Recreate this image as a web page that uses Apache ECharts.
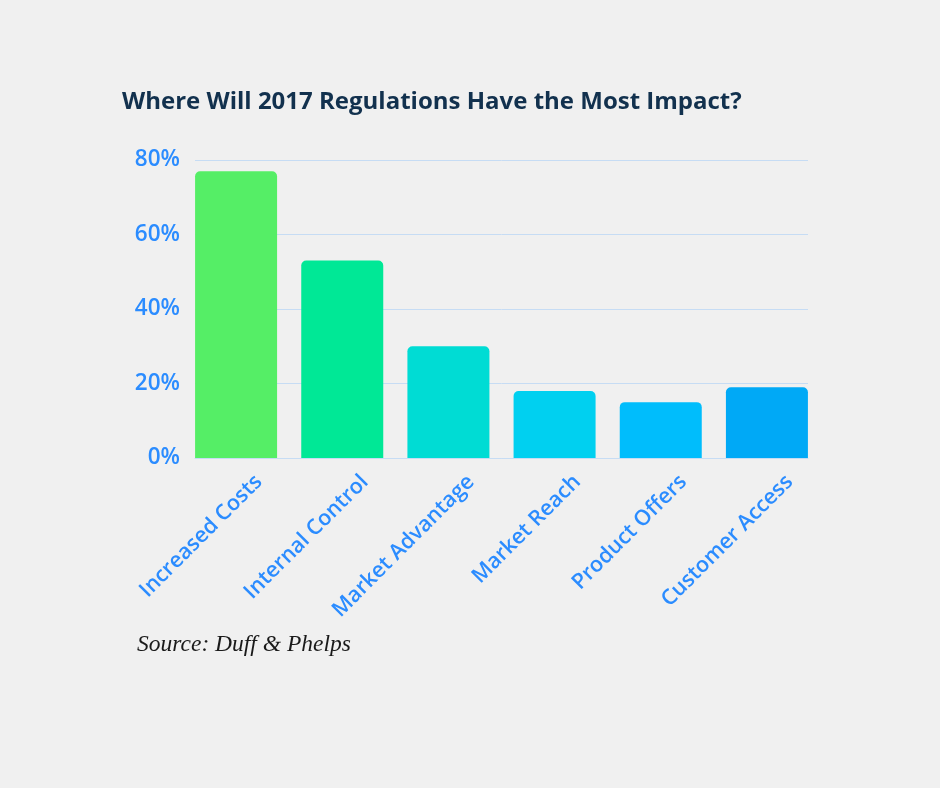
<!DOCTYPE html>
<html>
<head>
<meta charset="utf-8">
<script src="https://cdn.jsdelivr.net/npm/echarts@6/dist/echarts.min.js"></script>
<style>
html,body{margin:0;padding:0;background:#f0f0f0;}
#chart{width:940px;height:788px;}
</style>
</head>
<body>
<div id="chart"></div>
<script>
const categories = ['Increased Costs', 'Internal Control', 'Market Advantage', 'Market Reach', 'Product Offers', 'Customer Access'];
const values = [77, 53, 30, 18, 15, 19];
const barColors = ['#55ee66', '#00e896', '#00dcd4', '#00d0f0', '#00bdfc', '#00a9f6'];
const yTicks = [0, 20, 40, 60, 80];

const labelColor = '#2b8cff';
const gridColor = '#c6dcf4';
const yMin = yTicks[0], yMax = yTicks[yTicks.length - 1];

const chart = echarts.init(document.getElementById('chart'), null, {renderer: 'canvas'});
chart.setOption({
  backgroundColor: '#f0f0f0',
  animation: false,
  title: [
    {
      text: 'Where Will 2017 Regulations Have the Most Impact?',
      left: 117, top: 85,
      textStyle: {fontFamily: 'Open Sans', fontWeight: 'bold', fontSize: 24, color: '#12314e'}
    },
    {
      text: 'Source: Duff & Phelps',
      left: 132, top: 628,
      textStyle: {fontFamily: 'Liberation Serif', fontStyle: 'italic', fontWeight: 'normal', fontSize: 23.5, color: '#1a1a1a'}
    }
  ],
  grid: [
    {left: 195, right: 132, top: 160, bottom: 330, containLabel: false},
    {left: 183, right: 120, top: 160, bottom: 330, containLabel: false}
  ],
  xAxis: [
    {
      type: 'category', gridIndex: 0, data: categories,
      axisLine: {show: true, lineStyle: {color: gridColor, width: 1}},
      axisTick: {show: false}, axisLabel: {show: false}
    },
    {
      type: 'category', gridIndex: 1, data: categories,
      axisLine: {show: false}, axisTick: {show: false},
      axisLabel: {
        interval: 0, rotate: 45, margin: -2,
        verticalAlign: 'top', align: 'right',
        padding: [19, 0, 0, 0], lineHeight: 26,
        fontFamily: 'Open Sans', fontWeight: 600, fontSize: 21.5, color: labelColor
      }
    }
  ],
  yAxis: [
    {
      type: 'value', gridIndex: 0, min: yMin, max: yMax, interval: 20,
      axisLine: {show: false}, axisTick: {show: false},
      splitLine: {lineStyle: {color: gridColor, width: 1}},
      axisLabel: {
        margin: 15, formatter: v => v + '%',
        fontFamily: 'Open Sans', fontWeight: 600, fontSize: 22.5, color: labelColor
      }
    },
    {
      type: 'value', gridIndex: 1, min: yMin, max: yMax, interval: 20,
      show: false, splitLine: {show: false}
    }
  ],
  series: [{
    type: 'bar', xAxisIndex: 1, yAxisIndex: 1,
    data: values.map((v, i) => ({value: v, itemStyle: {color: barColors[i]}})),
    barWidth: 82,
    itemStyle: {borderRadius: [5, 5, 0, 0]}
  }]
});
</script>
</body>
</html>
